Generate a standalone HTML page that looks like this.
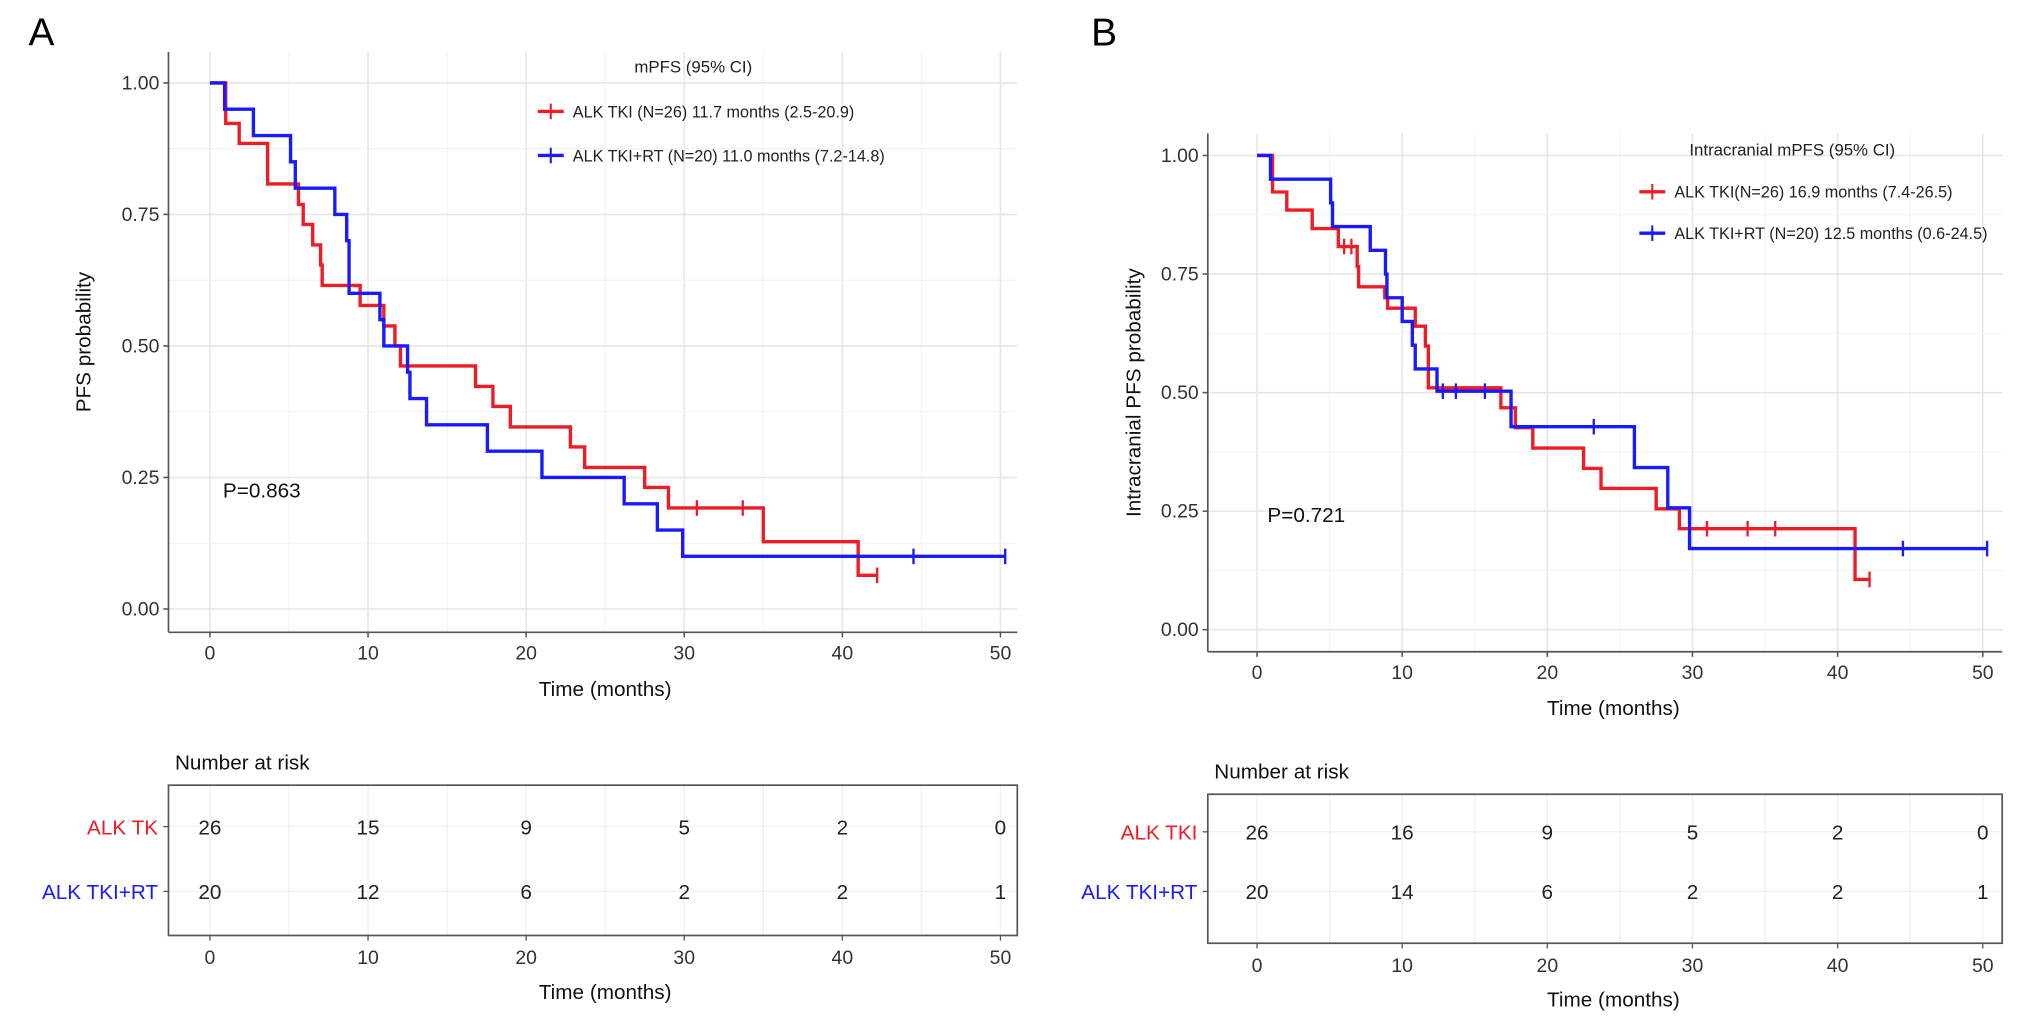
<!DOCTYPE html>
<html><head><meta charset="utf-8">
<style>
html,body{margin:0;padding:0;background:#fff;}
svg{display:block;font-family:"Liberation Sans",Arial,sans-serif;}
</style></head>
<body>
<svg id="fig" width="2032" height="1021" viewBox="0 0 1568 788" preserveAspectRatio="none" xmlns="http://www.w3.org/2000/svg">
<rect width="1568" height="788" fill="#fff"/>
</svg>
<script>
// ---- Panel A data ----
const aRedTimes = [1.0,1.85,3.65,5.6,5.9,6.5,7.0,7.1,9.5,11.0,11.7,12.05,16.8,17.9,19.0,22.8,23.7,27.5,29.0,35.0,41.0];
const aRedSurv  = [0.923,0.885,0.808,0.769,0.731,0.692,0.654,0.615,0.577,0.538,0.500,0.462,0.423,0.385,0.346,0.308,0.269,0.231,0.192,0.128,0.064];
const aRedCens  = [30.8,33.7,42.2];
const aBlueTimes = [0.93,2.75,5.1,5.4,7.9,8.65,8.8,10.75,11.0,12.5,12.65,13.7,17.55,21.0,26.2,28.3,29.9];
const aBlueSurv  = [0.95,0.90,0.85,0.80,0.75,0.70,0.60,0.55,0.50,0.45,0.40,0.35,0.30,0.25,0.20,0.15,0.10];
const aBlueCens  = [44.5,50.3];
const aRiskRed  = [26,15,9,5,2,0];
const aRiskBlue = [20,12,6,2,2,1];
// ---- Panel B data ----
const bRedTimes = [1.07,2.05,3.8,5.6,6.9,7.0,8.8,9.0,10.9,11.6,11.8,16.8,17.8,19.0,22.5,23.7,27.5,29.1,41.2];
const bRedSurv  = [0.923,0.885,0.846,0.808,0.766,0.723,0.70,0.678,0.64,0.598,0.51,0.468,0.426,0.383,0.34,0.298,0.255,0.213,0.106];
const bRedCens  = [6.0,6.5,31.0,33.8,35.7,42.2];
const bBlueTimes = [0.93,5.07,5.2,7.8,8.85,8.95,10.0,10.7,10.9,12.4,17.5,26.0,28.3,29.8];
const bBlueSurv  = [0.95,0.90,0.85,0.80,0.75,0.70,0.65,0.60,0.55,0.503,0.428,0.342,0.257,0.171];
const bBlueCens  = [12.8,13.7,15.7,23.2,44.5,50.3];
const bRiskRed  = [26,16,9,5,2,0];
const bRiskBlue = [20,14,6,2,2,1];
const xTicks = [0,10,20,30,40,50];
const yTicks = [0,0.25,0.5,0.75,1];
const yTickLabels = ["0.00","0.25","0.50","0.75","1.00"];

const svg = document.getElementById('fig');
const NS = 'http://www.w3.org/2000/svg';
function mk(tag, attrs, parent, text){
  const e = document.createElementNS(NS, tag);
  for (const k in attrs) e.setAttribute(k, attrs[k]);
  if (text !== undefined) e.textContent = text;
  (parent||svg).appendChild(e);
  return e;
}

function panel(cfg){
  const g = mk('g', {});
  
  
  const sx = t => cfg.x0 + (t/50)*(cfg.x50-cfg.x0);
  const sy = p => cfg.y0 + p*(cfg.y1-cfg.y0);
  // grid
  for (let t=0;t<=50;t+=5){
    const l = mk('line',{x1:sx(t),x2:sx(t),y1:cfg.top,y2:cfg.bottom,stroke:t%10===0?'#e6e6e6':'#f2f2f2','stroke-width':t%10===0?1.2:0.8},g);
    
    
  }
  for (let p=0;p<=1.0001;p+=0.125){
    const major = Math.round(p*8)%2===0;
    const l = mk('line',{x1:cfg.left,x2:cfg.right,y1:sy(p),y2:sy(p),stroke:major?'#e6e6e6':'#f2f2f2','stroke-width':major?1.2:0.8},g);
    
    
  }
  // axes
  const ya = mk('line',{x1:cfg.left,x2:cfg.left,y1:cfg.top,y2:cfg.bottom,stroke:'#555','stroke-width':1.3},g);
   
  const xa = mk('line',{x1:cfg.left,x2:cfg.right,y1:cfg.bottom,y2:cfg.bottom,stroke:'#555','stroke-width':1.3},g);
   
  yTicks.forEach((p,i)=>{
    mk('line',{x1:cfg.left-4,x2:cfg.left,y1:sy(p),y2:sy(p),stroke:'#555','stroke-width':1.2},g);
    const t = mk('text',{x:cfg.left-7,y:sy(p)+5,'text-anchor':'end','font-size':15,fill:'#333'},g,yTickLabels[i]);
     
  });
  xTicks.forEach(v=>{
    mk('line',{x1:sx(v),x2:sx(v),y1:cfg.bottom,y2:cfg.bottom+4,stroke:'#555','stroke-width':1.2},g);
    const t = mk('text',{x:sx(v),y:cfg.bottom+21,'text-anchor':'middle','font-size':15,fill:'#333'},g,String(v));
     
  });
  const xt = mk('text',{x:cfg.xTitleX,y:cfg.bottom+49,'text-anchor':'middle','font-size':16,fill:'#111'},g,'Time (months)');
   
  const ytx = cfg.yTitleX, yty = (cfg.top+cfg.bottom)/2;
  const yt = mk('text',{x:ytx,y:yty,'text-anchor':'middle','font-size':16,fill:'#111',transform:`rotate(-90 ${ytx} ${yty})`},g,cfg.yTitle);
   
  // curves
  function curve(times, surv, cens, color, nm){
    let d = `M${sx(0)},${sy(1)}`; let prev = 1;
    times.forEach((t,i)=>{ d += ` H${sx(t)} V${sy(surv[i])}`; prev = surv[i]; });
    const maxC = Math.max(...cens, times[times.length-1]);
    d += ` H${sx(maxC)}`;
    const p = mk('path',{d:d,fill:'none',stroke:color,'stroke-width':2.6},g);
     
    cens.forEach(c=>{
      let s = 1; times.forEach((t,i)=>{ if (t<=c) s = surv[i]; });
      const m = mk('line',{x1:sx(c),x2:sx(c),y1:sy(s)-6,y2:sy(s)+6,stroke:color,'stroke-width':1.8},g);
       
    });
  }
  curve(cfg.redT, cfg.redS, cfg.redC, '#ee1c25', 'alk-tki');
  curve(cfg.blueT, cfg.blueS, cfg.blueC, '#1a1aff', 'alk-tki-rt');
  // legend
  const lg = mk('g',{},g);
   
  mk('text',{x:cfg.legTitleX,y:cfg.legTitleY,'text-anchor':'middle','font-size':13,fill:'#222'},lg,cfg.legTitle);
  [[cfg.legY1,'#ee1c25',cfg.legRed],[cfg.legY2,'#1a1aff',cfg.legBlue]].forEach(([y,c,txt])=>{
    const e = mk('g',{},lg);
     
    mk('line',{x1:cfg.legX,x2:cfg.legX+20,y1:y,y2:y,stroke:c,'stroke-width':2.6},e);
    mk('line',{x1:cfg.legX+10,x2:cfg.legX+10,y1:y-6,y2:y+6,stroke:c,'stroke-width':1.6},e);
    mk('text',{x:cfg.legX+27,y:y+4.5,'font-size':12.5,fill:'#222'},e,txt);
  });
  const pv = mk('text',{x:cfg.pX,y:cfg.pY,'font-size':16,fill:'#111'},g,cfg.pText);
   
  const lt = mk('text',{x:cfg.letterX,y:35,'font-size':30,fill:'#000'},g,cfg.letter);
   
  // risk table
  const rt = mk('g',{},g);
   
  mk('text',{x:cfg.left+5,y:cfg.rTop-12,'font-size':16,fill:'#111'},rt,'Number at risk');
  for (let t=0;t<=50;t+=5) mk('line',{x1:sx(t),x2:sx(t),y1:cfg.rTop,y2:cfg.rBot,stroke:'#f0f0f0','stroke-width':1},rt);
  mk('line',{x1:cfg.left,x2:cfg.right,y1:cfg.rRow1,y2:cfg.rRow1,stroke:'#f3f3f3'},rt);
  mk('line',{x1:cfg.left,x2:cfg.right,y1:cfg.rRow2,y2:cfg.rRow2,stroke:'#f3f3f3'},rt);
  mk('rect',{x:cfg.left,y:cfg.rTop,width:cfg.right-cfg.left,height:cfg.rBot-cfg.rTop,fill:'none',stroke:'#555','stroke-width':1.3},rt);
  [[cfg.rRow1,'#ee1c25',cfg.rowRed,cfg.riskRed],[cfg.rRow2,'#1a1aff','ALK TKI+RT',cfg.riskBlue]].forEach(([y,c,lab,vals])=>{
    mk('line',{x1:cfg.left-4,x2:cfg.left,y1:y,y2:y,stroke:'#555'},rt);
    const l = mk('text',{x:cfg.left-8,y:y+6,'text-anchor':'end','font-size':16,fill:c},rt,lab);
     
    vals.forEach((v,i)=>{
      const n = mk('text',{x:sx(xTicks[i]),y:y+6,'text-anchor':'middle','font-size':16,fill:'#222'},rt,String(v));
       
    });
  });
  xTicks.forEach(v=>{
    mk('line',{x1:sx(v),x2:sx(v),y1:cfg.rBot,y2:cfg.rBot+4,stroke:'#555'},rt);
    mk('text',{x:sx(v),y:cfg.rBot+22,'text-anchor':'middle','font-size':15,fill:'#333'},rt,String(v));
  });
  mk('text',{x:cfg.xTitleX,y:cfg.rBot+49,'text-anchor':'middle','font-size':16,fill:'#111'},rt,'Time (months)');
}

panel({name:'panel-a', letter:'A', letterX:22,
  left:130,right:785,top:40,bottom:488,x0:162,x50:772,y0:470,y1:64,
  xTitleX:467,yTitleX:70,yTitle:'PFS probability',
  redT:aRedTimes,redS:aRedSurv,redC:aRedCens,blueT:aBlueTimes,blueS:aBlueSurv,blueC:aBlueCens,
  legTitle:'mPFS  (95% CI)',legTitleX:535,legTitleY:56,legX:415,legY1:86,legY2:120,
  legRed:'ALK TKI (N=26) 11.7 months (2.5-20.9)',legBlue:'ALK TKI+RT (N=20) 11.0 months (7.2-14.8)',
  pX:172,pY:384,pText:'P=0.863',
  rTop:606,rBot:722,rRow1:638,rRow2:688,rowRed:'ALK TK',riskRed:aRiskRed,riskBlue:aRiskBlue});

panel({name:'panel-b', letter:'B', letterX:842,
  left:932,right:1545,top:103,bottom:503,x0:970,x50:1530,y0:486,y1:120,
  xTitleX:1245,yTitleX:880,yTitle:'Intracranial PFS probability',
  redT:bRedTimes,redS:bRedSurv,redC:bRedCens,blueT:bBlueTimes,blueS:bBlueSurv,blueC:bBlueCens,
  legTitle:'Intracranial mPFS  (95% CI)',legTitleX:1383,legTitleY:120,legX:1265,legY1:148,legY2:180,
  legRed:'ALK TKI(N=26) 16.9 months (7.4-26.5)',legBlue:'ALK TKI+RT (N=20) 12.5 months (0.6-24.5)',
  pX:978,pY:403,pText:'P=0.721',
  rTop:613,rBot:728,rRow1:642,rRow2:688,rowRed:'ALK TKI',riskRed:bRiskRed,riskBlue:bRiskBlue});
</script>
</body></html>
